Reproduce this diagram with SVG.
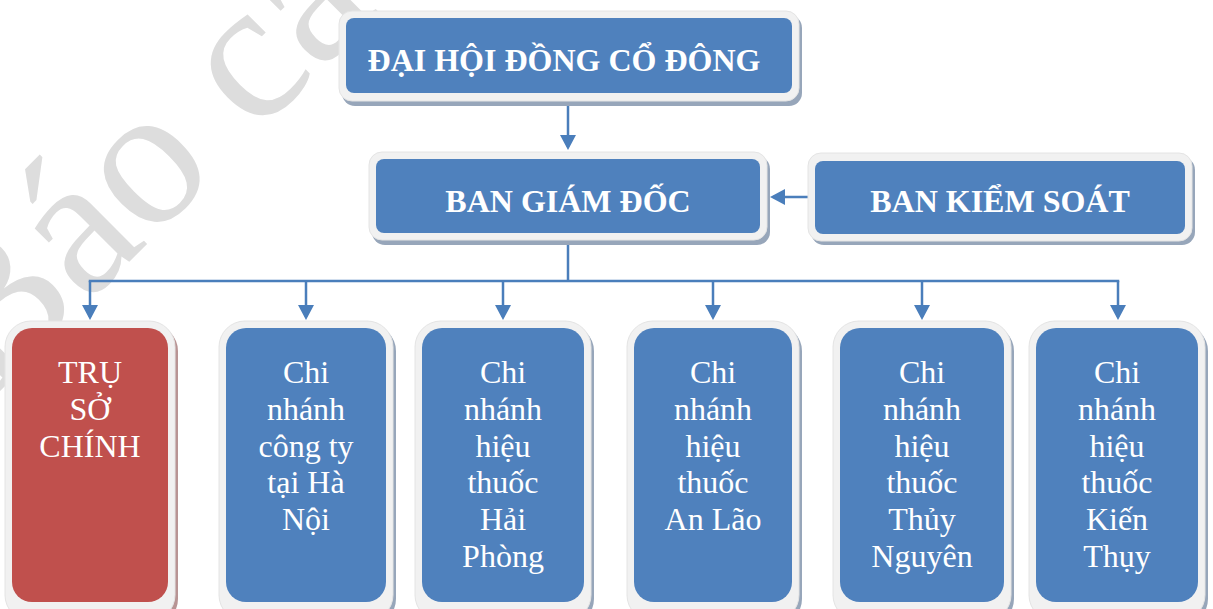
<svg xmlns="http://www.w3.org/2000/svg" width="1213" height="609" viewBox="0 0 1213 609">
<style>
.wm{font-family:"Liberation Serif","Times New Roman",serif;font-size:200px;fill:#dddddd}
.shadow{fill:#97a6ba}
.shadowR{fill:#b89494}
.frame{fill:#f1f1f1;stroke:#e4e4e4;stroke-width:1}
.blue{fill:#4f81bd}
.red{fill:#c0504d}
.title{font-family:"Liberation Serif","Times New Roman",serif;font-size:32px;font-weight:bold;fill:#ffffff;text-anchor:middle}
.lbl{font-family:"Liberation Serif","Times New Roman",serif;font-size:32px;fill:#ffffff;text-anchor:middle}
.conn{fill:none;stroke:#4a7ebb;stroke-width:2.5}
</style>
<defs>
<marker id="arr" markerUnits="userSpaceOnUse" markerWidth="16" markerHeight="16" refX="12" refY="8" orient="auto">
<path d="M0,0 L15,8 L0,16 z" fill="#4a7ebb"/>
</marker>
</defs>
<rect x="0" y="0" width="1213" height="609" fill="#ffffff"/>
<text class="wm" transform="translate(-8,399) rotate(-45)">Báo cáo</text>

<g id="connectors">
<line class="conn" x1="568" y1="100" x2="568" y2="147" marker-end="url(#arr)"/>
<line class="conn" x1="808" y1="197" x2="773" y2="197" marker-end="url(#arr)"/>
<polyline class="conn" points="568,240 568,281"/>
<line class="conn" x1="88.75" y1="281" x2="1119.25" y2="281"/>
<line class="conn" x1="90" y1="281" x2="90" y2="317" marker-end="url(#arr)"/>
<line class="conn" x1="306" y1="281" x2="306" y2="317" marker-end="url(#arr)"/>
<line class="conn" x1="503" y1="281" x2="503" y2="317" marker-end="url(#arr)"/>
<line class="conn" x1="713" y1="281" x2="713" y2="317" marker-end="url(#arr)"/>
<line class="conn" x1="922" y1="281" x2="922" y2="317" marker-end="url(#arr)"/>
<line class="conn" x1="1118" y1="281" x2="1118" y2="317" marker-end="url(#arr)"/>
</g>

<g id="dai-hoi-dong-co-dong">
<rect class="shadow" x="342" y="15" width="460" height="91" rx="13"/>
<rect class="frame" x="339" y="11" width="460" height="90" rx="13"/>
<rect class="blue" x="346" y="18" width="446" height="75" rx="8"/>
<text class="title" x="564" y="71">ĐẠI HỘI ĐỒNG CỔ ĐÔNG</text>
</g>

<g id="ban-giam-doc">
<rect class="shadow" x="372" y="156" width="398" height="89" rx="13"/>
<rect class="frame" x="369" y="152" width="398" height="88" rx="13"/>
<rect class="blue" x="376" y="159" width="384" height="74" rx="8"/>
<text class="title" x="568" y="212">BAN GIÁM ĐỐC</text>
</g>

<g id="ban-kiem-soat">
<rect class="shadow" x="811" y="157" width="384" height="88" rx="13"/>
<rect class="frame" x="808" y="153" width="384" height="88" rx="13"/>
<rect class="blue" x="815" y="161" width="370" height="73" rx="8"/>
<text class="title" x="1000" y="212">BAN KIỂM SOÁT</text>
</g>

<g id="tru-so-chinh">
<rect class="shadowR" x="8" y="325" width="170" height="300" rx="26"/>
<rect class="frame" x="5" y="321" width="170" height="300" rx="26"/>
<rect class="red" x="12" y="328" width="156" height="274" rx="20"/>
<text class="lbl" x="90"><tspan x="90" y="383">TRỤ</tspan><tspan x="90" y="419.5">SỞ</tspan><tspan x="90" y="456.5">CHÍNH</tspan></text>
</g>

<g id="cn-ha-noi">
<rect class="shadow" x="222" y="325" width="174" height="300" rx="26"/>
<rect class="frame" x="219" y="321" width="174" height="300" rx="26"/>
<rect class="blue" x="226" y="328" width="160" height="274" rx="20"/>
<text class="lbl"><tspan x="306" y="383">Chi</tspan><tspan x="306" y="419.8">nhánh</tspan><tspan x="306" y="456.6">công ty</tspan><tspan x="306" y="493.4">tại Hà</tspan><tspan x="306" y="530.2">Nội</tspan></text>
</g>

<g id="cn-hai-phong">
<rect class="shadow" x="418" y="325" width="176" height="300" rx="26"/>
<rect class="frame" x="415" y="321" width="176" height="300" rx="26"/>
<rect class="blue" x="422" y="328" width="162" height="274" rx="20"/>
<text class="lbl"><tspan x="503" y="383">Chi</tspan><tspan x="503" y="419.8">nhánh</tspan><tspan x="503" y="456.6">hiệu</tspan><tspan x="503" y="493.4">thuốc</tspan><tspan x="503" y="530.2">Hải</tspan><tspan x="503" y="567">Phòng</tspan></text>
</g>

<g id="cn-an-lao">
<rect class="shadow" x="630" y="325" width="172" height="300" rx="26"/>
<rect class="frame" x="627" y="321" width="172" height="300" rx="26"/>
<rect class="blue" x="634" y="328" width="158" height="274" rx="20"/>
<text class="lbl"><tspan x="713" y="383">Chi</tspan><tspan x="713" y="419.8">nhánh</tspan><tspan x="713" y="456.6">hiệu</tspan><tspan x="713" y="493.4">thuốc</tspan><tspan x="713" y="530.2">An Lão</tspan></text>
</g>

<g id="cn-thuy-nguyen">
<rect class="shadow" x="836" y="325" width="178" height="300" rx="26"/>
<rect class="frame" x="833" y="321" width="178" height="300" rx="26"/>
<rect class="blue" x="840" y="328" width="164" height="274" rx="20"/>
<text class="lbl"><tspan x="922" y="383">Chi</tspan><tspan x="922" y="419.8">nhánh</tspan><tspan x="922" y="456.6">hiệu</tspan><tspan x="922" y="493.4">thuốc</tspan><tspan x="922" y="530.2">Thủy</tspan><tspan x="922" y="567">Nguyên</tspan></text>
</g>

<g id="cn-kien-thuy">
<rect class="shadow" x="1032" y="325" width="176" height="300" rx="26"/>
<rect class="frame" x="1029" y="321" width="176" height="300" rx="26"/>
<rect class="blue" x="1036" y="328" width="162" height="274" rx="20"/>
<text class="lbl"><tspan x="1117" y="383">Chi</tspan><tspan x="1117" y="419.8">nhánh</tspan><tspan x="1117" y="456.6">hiệu</tspan><tspan x="1117" y="493.4">thuốc</tspan><tspan x="1117" y="530.2">Kiến</tspan><tspan x="1117" y="567">Thụy</tspan></text>
</g>
</svg>
